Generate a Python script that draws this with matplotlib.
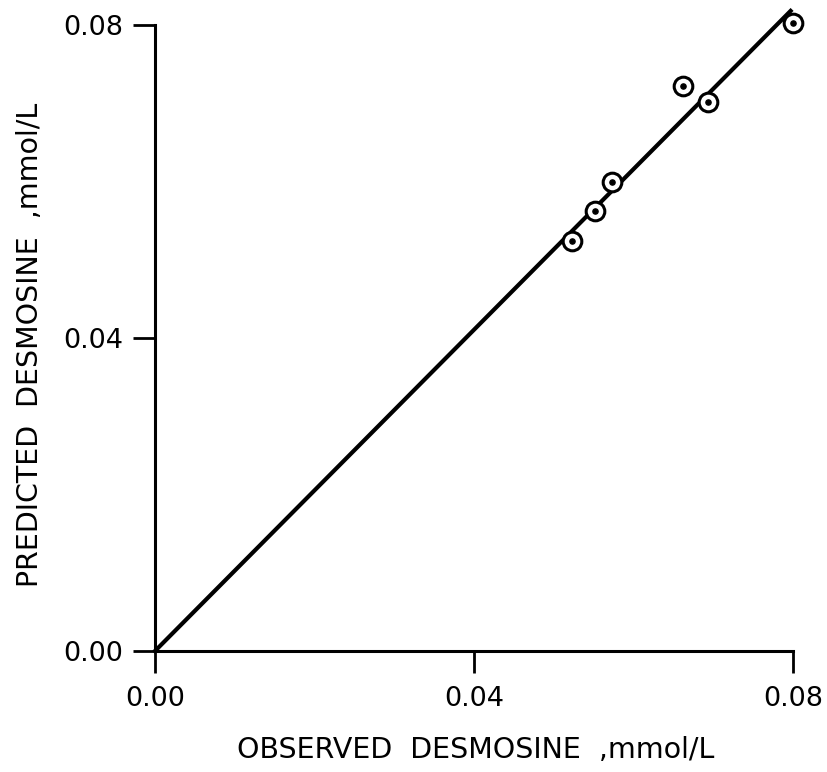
import matplotlib.pyplot as plt

plt.rcParams['font.family'] = 'DejaVu Sans'

# observed vs predicted desmosine, mmol/L
observed = [0.0523, 0.0552, 0.0573, 0.0662, 0.0693, 0.0800]
predicted = [0.0524, 0.0562, 0.0599, 0.0722, 0.0702, 0.0803]

# fitted line drawn through the origin
line_x = [0.0, 0.0797]
line_y = [0.0, 0.0818]

ticks = [0.00, 0.04, 0.08]
tick_labels = ['0.00', '0.04', '0.08']

fig = plt.figure(figsize=(8.28, 7.72), dpi=100)
ax = fig.add_axes([155/828, 1-651/772, 638/828, 626/772])

ax.plot(line_x, line_y, color='black', lw=3, clip_on=False, zorder=2)
ax.scatter(observed, predicted, s=180, facecolors='white', edgecolors='black',
           linewidths=2.2, clip_on=False, zorder=3)
ax.scatter(observed, predicted, s=14, color='black', clip_on=False, zorder=4)

ax.set_xlim(0, 0.08)
ax.set_ylim(0, 0.08)
ax.set_xticks(ticks)
ax.set_xticklabels(tick_labels)
ax.set_yticks(ticks)
ax.set_yticklabels(tick_labels)

for s in ['top', 'right']:
    ax.spines[s].set_visible(False)
for s in ['left', 'bottom']:
    ax.spines[s].set_linewidth(2.2)

ax.tick_params(axis='both', direction='out', length=16, width=2, labelsize=19.5)
ax.tick_params(axis='x', pad=9)
ax.tick_params(axis='y', pad=7)

fig.text(476/828, 1-750/772, 'OBSERVED  DESMOSINE  ,mmol/L', ha='center', va='center',
         fontsize=20.5)
fig.text(30/828, 1-345/772, 'PREDICTED  DESMOSINE  ,mmol/L', ha='center', va='center',
         rotation=90, fontsize=20.5)

fig.savefig('out.png', dpi=100)
